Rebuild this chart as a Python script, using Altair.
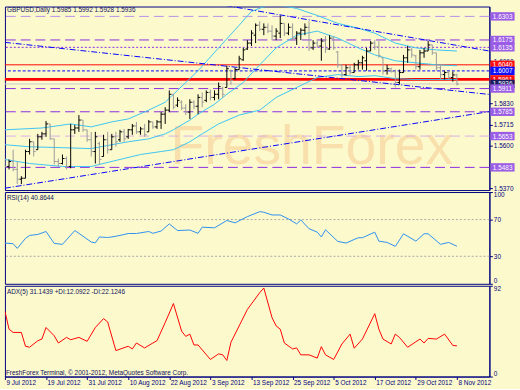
import altair as alt
import pandas as pd

# ---------------- data ----------------
bar_open = [1.5515,1.5488,1.5515,1.5472,1.5419,1.5424,1.5569,1.5622,1.5579,1.5649,
            1.5665,1.5719,1.5638,1.5515,1.5504,1.5531,1.5488,1.5687,1.5697,1.5740,
            1.5687,1.5633,1.5569,1.5612,1.5542,1.5633,1.5579,1.5649,1.5633,1.5676,
            1.5649,1.5687,1.5708,1.5676,1.5692,1.5676,1.5730,1.5703,1.5730,1.5772,
            1.5794,1.5880,1.5821,1.5837,1.5805,1.5783,1.5837,1.5815,1.5863,1.5847,
            1.5890,1.5863,1.5880,1.5912,1.5917,1.6008,1.5965,1.6014,1.6067,1.6126,
            1.6158,1.6201,1.6255,1.6233,1.6244,1.6223,1.6196,1.6212,1.6265,1.6212,
            1.6244,1.6185,1.6212,1.6228,1.6244,1.6132,1.6158,1.6142,1.6169,1.6126,
            1.6185,1.6110,1.6040,1.5987,1.6024,1.5998,1.6040,1.6051,1.6062,1.6115,
            1.6158,1.6137,1.6078,1.6008,1.6019,1.6003,1.5944,1.5998,1.6078,1.6121,
            1.6089,1.6030,1.6105,1.6115,1.6148,1.6105,1.6024,1.5987,1.5998,1.5971,
            1.5985]
bar_high = [1.5531,1.5526,1.5579,1.5515,1.5435,1.5579,1.5638,1.5622,1.5665,1.5676,
            1.5735,1.5719,1.5638,1.5531,1.5553,1.5542,1.5719,1.5713,1.5767,1.5740,
            1.5687,1.5676,1.5676,1.5622,1.5660,1.5676,1.5665,1.5676,1.5687,1.5692,
            1.5692,1.5719,1.5730,1.5703,1.5719,1.5740,1.5730,1.5740,1.5783,1.5810,
            1.5901,1.5880,1.5863,1.5847,1.5826,1.5853,1.5847,1.5880,1.5890,1.5901,
            1.5906,1.5901,1.5944,1.5922,1.6035,1.6014,1.6024,1.6089,1.6132,1.6174,
            1.6228,1.6265,1.6276,1.6265,1.6265,1.6255,1.6239,1.6308,1.6265,1.6265,
            1.6265,1.6223,1.6239,1.6265,1.6276,1.6174,1.6174,1.6185,1.6196,1.6201,
            1.6196,1.6115,1.6040,1.6040,1.6040,1.6051,1.6067,1.6089,1.6132,1.6169,
            1.6174,1.6169,1.6078,1.6040,1.6024,1.6014,1.6014,1.6094,1.6142,1.6132,
            1.6094,1.6121,1.6132,1.6169,1.6148,1.6105,1.6035,1.6008,1.6008,1.6003,
            1.5992]
bar_low = [1.5478,1.5472,1.5462,1.5392,1.5392,1.5424,1.5553,1.5542,1.5579,1.5633,
           1.5649,1.5633,1.5499,1.5488,1.5499,1.5472,1.5478,1.5665,1.5676,1.5676,
           1.5622,1.5542,1.5504,1.5499,1.5542,1.5558,1.5579,1.5595,1.5622,1.5622,
           1.5638,1.5660,1.5665,1.5660,1.5649,1.5676,1.5692,1.5692,1.5692,1.5719,
           1.5783,1.5799,1.5810,1.5794,1.5767,1.5746,1.5799,1.5772,1.5810,1.5837,
           1.5847,1.5847,1.5853,1.5863,1.5917,1.5933,1.5960,1.6014,1.6062,1.6121,
           1.6142,1.6158,1.6223,1.6201,1.6212,1.6174,1.6174,1.6185,1.6196,1.6201,
           1.6174,1.6148,1.6174,1.6201,1.6115,1.6121,1.6132,1.6062,1.6105,1.6121,
           1.6121,1.6024,1.5971,1.5981,1.5987,1.5998,1.6014,1.6014,1.6008,1.6115,
           1.6121,1.6078,1.5987,1.5987,1.5998,1.5917,1.5933,1.5998,1.6051,1.6078,
           1.6014,1.6014,1.6078,1.6115,1.6094,1.6008,1.5960,1.5960,1.5960,1.5949,
           1.5928]
bar_close = [1.5488,1.5515,1.5472,1.5419,1.5424,1.5569,1.5622,1.5569,1.5649,1.5665,
             1.5719,1.5638,1.5515,1.5504,1.5531,1.5488,1.5687,1.5697,1.5740,1.5687,
             1.5633,1.5569,1.5649,1.5526,1.5633,1.5579,1.5649,1.5622,1.5676,1.5638,
             1.5687,1.5708,1.5676,1.5692,1.5660,1.5730,1.5703,1.5730,1.5772,1.5794,
             1.5880,1.5810,1.5847,1.5805,1.5783,1.5837,1.5815,1.5863,1.5837,1.5890,
             1.5863,1.5880,1.5922,1.5880,1.6019,1.5955,1.6014,1.6073,1.6121,1.6158,
             1.6212,1.6255,1.6233,1.6244,1.6223,1.6196,1.6223,1.6265,1.6212,1.6244,
             1.6185,1.6212,1.6228,1.6244,1.6132,1.6158,1.6142,1.6169,1.6126,1.6185,
             1.6132,1.6040,1.5987,1.6024,1.5998,1.6040,1.6051,1.6078,1.6115,1.6158,
             1.6137,1.6089,1.6008,1.6019,1.6003,1.5944,1.5998,1.6078,1.6121,1.6094,
             1.6030,1.6105,1.6115,1.6148,1.6105,1.6024,1.5987,1.5998,1.5971,1.5985,
             1.5936]

bb_up_i = [0,9,16,21,26,30,35,39,42,47,52,57,60,65,71,76,81,86,90,95,100,105,110]
bb_up_v = [1.5687,1.5697,1.5719,1.5703,1.5730,1.5746,1.5794,1.5837,1.5901,1.6008,1.6132,
           1.6255,1.6330,1.6373,1.6346,1.6308,1.6265,1.6239,1.6212,1.6158,1.6132,1.6121,1.6115]
bb_mid_i = [0,6,14,21,26,30,35,39,41,45,47,51,54,58,62,66,71,76,81,86,90,95,100,105,110]
bb_mid_v = [1.5606,1.5595,1.5590,1.5585,1.5606,1.5622,1.5638,1.5665,1.5687,1.5740,1.5772,
            1.5826,1.5880,1.5944,1.6040,1.6132,1.6201,1.6223,1.6185,1.6132,1.6094,1.6062,
            1.6051,1.6040,1.6035]
bb_low_i = [0,6,14,21,23,28,33,38,41,45,48,52,57,62,66,71,76,81,86,90,95,100,105,110]
bb_low_v = [1.5526,1.5504,1.5488,1.5488,1.5499,1.5526,1.5553,1.5569,1.5579,1.5622,1.5665,
            1.5719,1.5767,1.5794,1.5863,1.5917,1.5971,1.5987,1.5976,1.5981,1.5965,1.5960,
            1.5960,1.5960]

trend_names = ["upper", "upper", "falling", "falling", "rising", "rising"]
trend_i = [53.8, 117.9, 0, 117.9, 0, 117.9]
trend_p = [1.6362, 1.6115, 1.6162, 1.5879, 1.5370, 1.5786]

level_prices = [1.6303, 1.6175, 1.6135, 1.6040, 1.6007, 1.5961, 1.5936, 1.5911, 1.5785, 1.5653, 1.5483]
level_labels = ["1.6303", "1.6175", "1.6135", "1.6040", "1.6007", "1.5961", "1.5936",
                "1.5911", "1.5785", "1.5653", "1.5483"]
price_ticks = [1.5370, 1.5600, 1.5715, 1.5830, 1.6060]

rsi_i = [0,2,3,5,6,8,10,12,14,17,18,21,22,23,25,26,28,30,32,35,36,38,40,42,45,47,48,51,54,56,
         59,62,63,65,67,69,71,72,74,76,77,78,81,83,86,87,90,91,93,95,97,100,102,103,106,108,110]
rsi_v = [44.4,43.7,38.6,49.5,52.7,53.8,57,44,43,58,55,45.5,44.6,51,50.5,51,52.7,54.8,54.8,57,
         55,57.5,65.3,58,58.6,55,61.7,61,69,66.4,73.2,78.6,78,75,75,70.7,65.3,69.6,60,56.3,
         51,58.9,46.2,44.4,50.2,50.2,56.3,46.5,45.1,40.8,54.5,46.5,54.5,54.5,43,45.1,40.9]
rsi_levels = [30, 70]

adx_i = [0,1,2,4,5,6,8,9,10,12,13,15,16,18,20,22,24,25,27,30,31,32,34,36,37,39,41,43,44,45,
         46,47,50,52,53,54,55,59,62,63,65,66,67,68,70,71,72,74,76,77,78,80,82,84,85,87,90,91,
         92,94,95,96,98,101,102,103,105,107,109,110]
adx_v = [66.3,48,44.7,44.7,30.7,29.7,36.3,38,49.7,41.3,34,39.7,37.3,39.7,35.7,49.7,58.7,55.3,
         26.3,30.7,28,34,29,34,36.3,54.7,74,46,40.7,43,32,32,17.3,23,22,16.3,34.7,68,85,89.7,
         59.7,51.3,48,34,28,29,22,22,18.7,30.3,22,17.3,33,43,28.7,38,63.7,48,38,33,43,39.7,
         29.7,38,34,38.7,38,43,31.5,31.1]

date_ticks = [0, 10, 20, 30, 40, 50, 60, 70, 80, 90, 100, 110]
date_labels = ["9 Jul 2012", "19 Jul 2012", "31 Jul 2012", "10 Aug 2012", "22 Aug 2012",
               "3 Sep 2012", "13 Sep 2012", "25 Sep 2012", "5 Oct 2012", "17 Oct 2012",
               "29 Oct 2012", "8 Nov 2012"]

# ---------------- styles ----------------
W = 491
H_MAIN, H_RSI, H_ADX = 186, 93, 92
BG = "#FCFACD"
NAVY = "#000080"
FONT = "Liberation Sans"
FS = 6.5
PURPLE = "#8A2BE2"
level_style = [  # color, dash, width, box color
    ("#B88EEA", [10, 5], 1, "#9B5DE5"),
    (PURPLE, [10, 5], 1, "#9B5DE5"),
    (PURPLE, [2, 2], 1, "#9B5DE5"),
    ("#FF0000", [], 1, "#FF1010"),
    ("#0000FF", [3, 2], 1, "#1010FF"),
    ("#FF0000", [], 3, "#FF1010"),
    ("#C8C8C8", [], 1, "#1A1A5E"),
    (PURPLE, [10, 5], 1, "#9B5DE5"),
    (PURPLE, [10, 5], 1, "#9B5DE5"),
    ("#D9AEE6", [10, 5], 1, "#9B5DE5"),
    (PURPLE, [10, 5], 1, "#9B5DE5"),
]

xs = alt.Scale(domain=[0, 117.9], nice=False, zero=False)
ys_main = alt.Scale(domain=[1.53598, 1.63566], nice=False, zero=False)
ax_main = alt.Axis(orient="right", values=price_ticks, format=".4f", title=None, grid=False,
                   tickSize=3, labelPadding=1, labelFontSize=FS, labelColor=NAVY,
                   tickColor=NAVY, domainColor=NAVY, labelFont=FONT)


def X(f="i"):
    return alt.X(f + ":Q", scale=xs, axis=None)


def YM(f):
    return alt.Y(f + ":Q", scale=ys_main, axis=ax_main)


bars = pd.DataFrame({"i": list(range(len(bar_close))), "o": bar_open, "h": bar_high,
                     "l": bar_low, "c": bar_close})
bars["dir"] = ["up" if c >= o else "down" for o, c in zip(bar_open, bar_close)]
bar_color = alt.Color("dir:N", scale=alt.Scale(domain=["up", "down"], range=["#000000", "#9A9A9A"]),
                      legend=None)

layers = []
# watermark
layers.append(alt.Chart(pd.DataFrame({"t": ["FreshForex"]})).mark_text(
    font=FONT, fontSize=56, color="#F6C68C", opacity=0.5, align="center", baseline="alphabetic"
).encode(x=alt.value(311), y=alt.value(160), text="t:N"))

# horizontal levels
for p, (col, dash, sw, _) in zip(level_prices, level_style):
    kw = dict(color=col, strokeWidth=sw)
    if dash:
        kw["strokeDash"] = dash
    layers.append(alt.Chart(pd.DataFrame({"p": [p]})).mark_rule(**kw).encode(y=YM("p")))

# bollinger bands
bb = pd.DataFrame({
    "band": ["up"] * len(bb_up_i) + ["mid"] * len(bb_mid_i) + ["low"] * len(bb_low_i),
    "i": bb_up_i + bb_mid_i + bb_low_i,
    "p": bb_up_v + bb_mid_v + bb_low_v,
})
layers.append(alt.Chart(bb).mark_line(color="#3CC4F2", strokeWidth=1, clip=True).encode(
    x=X(), y=YM("p"), detail="band:N"))

# trend lines
tr = pd.DataFrame({"name": trend_names, "i": trend_i, "p": trend_p})
layers.append(alt.Chart(tr).mark_line(color="#0000FF", strokeWidth=1, strokeDash=[6, 2, 1, 2],
                                      clip=True).encode(x=X(), y=YM("p"), detail="name:N"))

# OHLC bars
base = alt.Chart(bars)
layers.append(base.mark_rule(strokeWidth=1, clip=True).encode(
    x=X(), y=YM("l"), y2="h:Q", color=bar_color))
layers.append(base.mark_rule(strokeWidth=1, clip=True, xOffset=-2, x2Offset=0).encode(
    x=X(), x2="i:Q", y=YM("o"), color=bar_color))
layers.append(base.mark_rule(strokeWidth=1, clip=True, xOffset=0, x2Offset=2).encode(
    x=X(), x2="i:Q", y=YM("c"), color=bar_color))

# right-side price boxes
for p, lab, (_, _, _, bcol) in zip(level_prices, level_labels, level_style):
    d = pd.DataFrame({"p": [p], "t": [lab]})
    layers.append(alt.Chart(d).mark_rule(color=bcol, strokeWidth=8.5).encode(
        x=alt.value(492), x2=alt.value(516.5), y=YM("p")))
    layers.append(alt.Chart(d).mark_text(color="white", font=FONT, fontSize=FS, align="left",
                                         baseline="middle", dy=0.5).encode(
        x=alt.value(494.5), y=YM("p"), text="t:N"))

title_main = "GBPUSD,Daily  %.4f %.4f %.4f %.4f" % (bar_open[-1], bar_high[-1], bar_low[-1], bar_close[-1])
layers.append(alt.Chart(pd.DataFrame({"t": [title_main]})).mark_text(
    font=FONT, fontSize=FS, color="#10105A", align="left", baseline="top").encode(
    x=alt.value(2), y=alt.value(1), text="t:N"))

main = alt.layer(*layers).properties(width=W, height=H_MAIN)

# ---------------- RSI ----------------
ys_rsi = alt.Scale(domain=[0, 100], nice=False, zero=False)
ax_rsi = alt.Axis(orient="right", values=[0, 30, 70, 100], title=None, grid=False, tickSize=3,
                  labelPadding=1, labelFontSize=FS, labelColor=NAVY, tickColor=NAVY,
                  domainColor=NAVY, labelFlush=True, labelFont=FONT)
rsi_df = pd.DataFrame({"i": rsi_i, "v": rsi_v})
rsi = alt.layer(
    alt.Chart(pd.DataFrame({"v": rsi_levels})).mark_rule(color="#A8A8A8", strokeDash=[2, 2]).encode(
        y=alt.Y("v:Q", scale=ys_rsi, axis=ax_rsi)),
    alt.Chart(rsi_df).mark_line(color="#2E8FF0", strokeWidth=1, clip=True).encode(
        x=X(), y=alt.Y("v:Q", scale=ys_rsi, axis=ax_rsi)),
    alt.Chart(pd.DataFrame({"t": ["RSI(14) 40.8644"]})).mark_text(
        font=FONT, fontSize=FS, color="#10105A", align="left", baseline="top").encode(
        x=alt.value(2), y=alt.value(3), text="t:N"),
).properties(width=W, height=H_RSI)

# ---------------- ADX ----------------
ys_adx = alt.Scale(domain=[0, 92], nice=False, zero=False)
ax_adx = alt.Axis(orient="right", values=[0, 92], title=None, grid=False, tickSize=3,
                  labelPadding=1, labelFontSize=FS, labelColor=NAVY, tickColor=NAVY,
                  domainColor=NAVY, labelFlush=True, labelFont=FONT)
label_expr = "[" + ",".join("'%s'" % s for s in date_labels) + "][round(datum.value/10)]"
ax_x = alt.Axis(orient="bottom", values=date_ticks, labelExpr=label_expr, title=None, grid=False,
                tickSize=3, labelPadding=0, labelAlign="left", labelBaseline="top", labelOffset=1,
                labelFontSize=FS, labelColor=NAVY, tickColor=NAVY, domainColor=NAVY,
                labelFont=FONT, labelOverlap=False, labelFlush=False)
adx_df = pd.DataFrame({"i": adx_i, "v": adx_v})
adx = alt.layer(
    alt.Chart(adx_df).mark_line(color="#FF0000", strokeWidth=1, clip=True).encode(
        x=alt.X("i:Q", scale=xs, axis=ax_x), y=alt.Y("v:Q", scale=ys_adx, axis=ax_adx)),
    alt.Chart(pd.DataFrame({"t": ["ADX(5) 31.1439 +DI:12.0922 -DI:22.1246"]})).mark_text(
        font=FONT, fontSize=FS, color="#10105A", align="left", baseline="top").encode(
        x=alt.value(2), y=alt.value(3), text="t:N"),
    alt.Chart(pd.DataFrame({"t": ["FreshForex Terminal, \u00a9 2001-2012, MetaQuotes Software Corp."]})).mark_text(
        font=FONT, fontSize=FS, color="#10105A", align="left", baseline="bottom").encode(
        x=alt.value(1), y=alt.value(H_ADX - 1), text="t:N"),
).properties(width=W, height=H_ADX)

chart = alt.vconcat(main, rsi, adx, spacing=2, bounds="flush").properties(
    padding={"left": 3, "top": 3, "right": 0, "bottom": 0}, background=BG
).configure_view(stroke=NAVY, strokeWidth=1, fill=BG)

chart.save("out.html", embed_options={"renderer": "svg", "actions": False})
